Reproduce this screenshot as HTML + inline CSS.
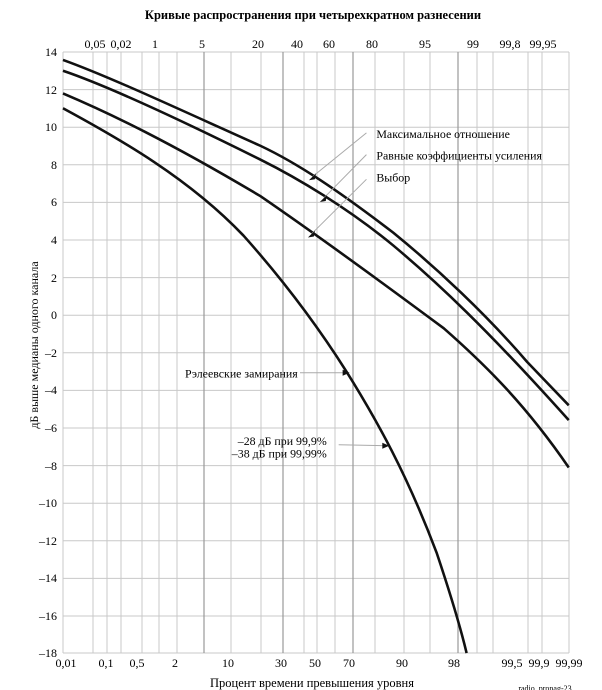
<!DOCTYPE html>
<html><head><meta charset="utf-8"><style>
body{margin:0;background:#fff;}
svg{display:block;font-family:"Liberation Serif",serif;}
</style></head><body>
<svg width="602" height="690" viewBox="0 0 602 690">
<text x="313" y="19" text-anchor="middle" font-weight="bold" font-size="12.5">Кривые распространения при четырехкратном разнесении</text>
<g stroke="#c8c8c8" stroke-width="1">
<line x1="63" y1="52" x2="569" y2="52"/><line x1="63" y1="89.6" x2="569" y2="89.6"/><line x1="63" y1="127.2" x2="569" y2="127.2"/><line x1="63" y1="164.8" x2="569" y2="164.8"/><line x1="63" y1="202.4" x2="569" y2="202.4"/><line x1="63" y1="240" x2="569" y2="240"/><line x1="63" y1="277.6" x2="569" y2="277.6"/><line x1="63" y1="315.2" x2="569" y2="315.2"/><line x1="63" y1="352.8" x2="569" y2="352.8"/><line x1="63" y1="390.4" x2="569" y2="390.4"/><line x1="63" y1="428" x2="569" y2="428"/><line x1="63" y1="465.6" x2="569" y2="465.6"/><line x1="63" y1="503.2" x2="569" y2="503.2"/><line x1="63" y1="540.8" x2="569" y2="540.8"/><line x1="63" y1="578.4" x2="569" y2="578.4"/><line x1="63" y1="616" x2="569" y2="616"/><line x1="63" y1="653" x2="569" y2="653"/>
<line x1="93" y1="52" x2="93" y2="653"/><line x1="107" y1="52" x2="107" y2="653"/><line x1="121" y1="52" x2="121" y2="653"/><line x1="142" y1="52" x2="142" y2="653"/><line x1="159" y1="52" x2="159" y2="653"/><line x1="177" y1="52" x2="177" y2="653"/><line x1="231" y1="52" x2="231" y2="653"/><line x1="261" y1="52" x2="261" y2="653"/><line x1="304" y1="52" x2="304" y2="653"/><line x1="317" y1="52" x2="317" y2="653"/><line x1="335" y1="52" x2="335" y2="653"/><line x1="375" y1="52" x2="375" y2="653"/><line x1="404" y1="52" x2="404" y2="653"/><line x1="430" y1="52" x2="430" y2="653"/><line x1="477" y1="52" x2="477" y2="653"/><line x1="493" y1="52" x2="493" y2="653"/><line x1="528" y1="52" x2="528" y2="653"/><line x1="542" y1="52" x2="542" y2="653"/>
<line x1="63" y1="52" x2="63" y2="653"/><line x1="569" y1="52" x2="569" y2="653"/>
</g>
<g stroke="#999" stroke-width="1.2">
<line x1="204" y1="52" x2="204" y2="653"/><line x1="283" y1="52" x2="283" y2="653"/><line x1="353" y1="52" x2="353" y2="653"/><line x1="458" y1="52" x2="458" y2="653"/>
</g>
<g font-size="12" text-anchor="end">
<text x="57" y="56">14</text><text x="57" y="94">12</text><text x="57" y="131">10</text><text x="57" y="169">8</text><text x="57" y="206">6</text><text x="57" y="244">4</text><text x="57" y="282">2</text><text x="57" y="319">0</text><text x="57" y="357">–2</text><text x="57" y="394">–4</text><text x="57" y="432">–6</text><text x="57" y="470">–8</text><text x="57" y="507">–10</text><text x="57" y="545">–12</text><text x="57" y="582">–14</text><text x="57" y="620">–16</text><text x="57" y="657">–18</text>
</g>
<g font-size="12" text-anchor="middle">
<text x="95" y="48">0,05</text><text x="121" y="48">0,02</text><text x="155" y="48">1</text><text x="202" y="48">5</text><text x="258" y="48">20</text><text x="297" y="48">40</text><text x="329" y="48">60</text><text x="372" y="48">80</text><text x="425" y="48">95</text><text x="473" y="48">99</text><text x="510" y="48">99,8</text><text x="543" y="48">99,95</text>
<text x="66" y="667">0,01</text><text x="106" y="667">0,1</text><text x="137" y="667">0,5</text><text x="175" y="667">2</text><text x="228" y="667">10</text><text x="281" y="667">30</text><text x="315" y="667">50</text><text x="349" y="667">70</text><text x="402" y="667">90</text><text x="454" y="667">98</text><text x="512" y="667">99,5</text><text x="539" y="667">99,9</text><text x="569" y="667">99,99</text>
<text x="312" y="687" font-size="12.5">Процент времени превышения уровня</text>
</g>
<text x="545" y="691" font-size="8" text-anchor="middle">radio_propag-23</text>
<text transform="translate(38,345) rotate(-90)" font-size="12" text-anchor="middle">дБ выше медианы одного канала</text>
<g transform="matrix(0.9917,0,0,0.9869,0.5,0.68)">
<g fill="none" stroke="#111" stroke-width="2.6" stroke-linejoin="round">
<path d="M63,60 C110,77 180,110 262,147 C300,165 340,192 396,235 C440,271 490,318 531,366 L573,410"/>
<path d="M63,71 C110,87 180,120 262,161 C300,180 350,210 396,248 C440,285 490,332 573,425"/>
<path d="M63,94 C110,114 170,143 262,198 C320,238 380,282 447,332 C490,370 530,410 573,473"/>
<path d="M63,109 C120,140 190,180 245,238 C285,283 320,330 349,376 C380,426 410,480 440,560 C455,605 465,640 470,661"/>
</g>
<g stroke="#aaa" stroke-width="1" fill="none">
<line x1="369" y1="134" x2="315" y2="178"/><line x1="369" y1="156" x2="326" y2="200"/><line x1="369" y1="181" x2="314" y2="236"/>
<line x1="302" y1="377" x2="351" y2="377"/><line x1="341" y1="450" x2="391" y2="451"/>
</g>
<g fill="#111">
<polygon points="311,182 318,175 317,181"/><polygon points="322,204 329,197 328,203"/><polygon points="310,240 317,233 316,239"/>
<polygon points="352,377 345,374 345,380"/><polygon points="392,451 385,448 385,454"/>
</g>
<g font-size="12">
<text x="379" y="139">Максимальное отношение</text><text x="379" y="161">Равные коэффициенты усиления</text><text x="379" y="183">Выбор</text>
<text x="186" y="382">Рэлеевские замирания</text>
<text x="329" y="450" text-anchor="end">–28 дБ при  99,9%</text><text x="329" y="463" text-anchor="end">–38 дБ при  99,99%</text>
</g>
</g>
</svg>
</body></html>
